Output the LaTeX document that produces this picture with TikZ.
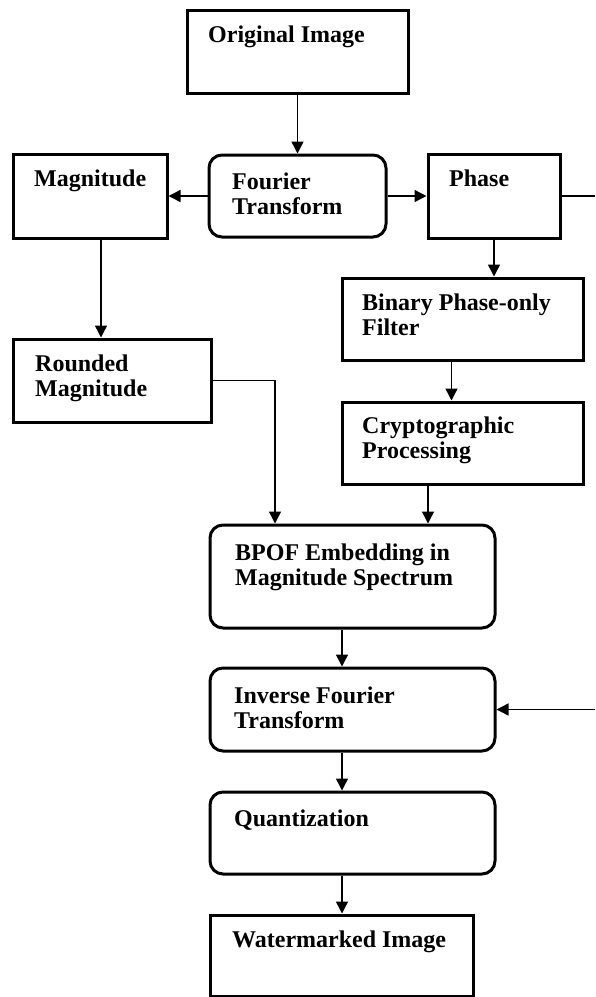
\documentclass[tikz,border=0pt]{standalone}
\usepackage{fontspec}
\setmainfont{Liberation Serif}
\usetikzlibrary{arrows.meta}
\begin{document}
\begin{tikzpicture}[x=1pt,y=-1pt,
  sqbox/.style={draw=black,line width=3pt,rectangle,inner sep=0pt},
  rbox/.style={draw=black,line width=3pt,rectangle,rounded corners=13pt,inner sep=0pt},
  lbl/.style={inner sep=0pt,anchor=north west,align=left,font=\fontsize{24}{25}\selectfont\bfseries},
  arr/.style={line width=1.4pt,-{Triangle[length=12pt,width=12pt]}},
  ln/.style={line width=1.4pt}]
\useasboundingbox (0,0) rectangle (595,997);
% boxes
\node[sqbox,minimum width=221pt,minimum height=83pt] (orig) at (297.5,51.5) {};
\node[rbox,minimum width=177pt,minimum height=82pt] (ft) at (297.5,196) {};
\node[sqbox,minimum width=154pt,minimum height=84pt] (mag) at (90,196) {};
\node[sqbox,minimum width=132pt,minimum height=84pt] (phase) at (494,196) {};
\node[sqbox,minimum width=198pt,minimum height=83pt] (rounded) at (112,380.5) {};
\node[sqbox,minimum width=241pt,minimum height=82pt] (binary) at (462.5,319) {};
\node[sqbox,minimum width=241pt,minimum height=82pt] (crypto) at (462.5,443) {};
\node[rbox,minimum width=285pt,minimum height=103pt] (bpof) at (352.5,576.5) {};
\node[rbox,minimum width=285pt,minimum height=83pt] (ift) at (352.5,709.5) {};
\node[rbox,minimum width=285pt,minimum height=82pt] (quant) at (352.5,833) {};
\node[sqbox,minimum width=263pt,minimum height=81pt] (wm) at (341.5,955.5) {};
% labels (top = baseline - 17.5)
\node[lbl] (torig) at (208,24.5) {\strut Original Image};
\node[lbl] (tft) at (232,171.5) {\strut Fourier\\\strut Transform};
\node[lbl] (tmag) at (34,168.5) {\strut Magnitude};
\node[lbl] (tphase) at (449,168.5) {\strut Phase};
\node[lbl] (tbin) at (362,292.5) {\strut Binary Phase-only\\\strut Filter};
\node[lbl] (trnd) at (35,353.5) {\strut Rounded\\\strut Magnitude};
\node[lbl] (tcry) at (362,415.5) {\strut Cryptographic\\\strut Processing};
\node[lbl] (tbpof) at (235,542.5) {\strut BPOF Embedding in\\\strut Magnitude Spectrum};
\node[lbl] (tift) at (234,685.5) {\strut Inverse Fourier\\\strut Transform};
\node[lbl] (tq) at (234,808.5) {\strut Quantization};
\node[lbl] (twm) at (232,929.5) {\strut Watermarked Image};
% helper coordinates
\coordinate (xmr) at (101,0);
\coordinate (xbc) at (451.5,0);
\coordinate (xrb) at (275,0);
\coordinate (xcb) at (428,0);
\coordinate (xmid) at (342,0);
\coordinate (pr) at (595,196);
\coordinate (ir) at (595,709.5);
% connectors
\draw[arr] (orig.south) -- (ft.north);
\draw[arr] (ft.west) -- (mag.east);
\draw[arr] (ft.east) -- (phase.west);
\draw[ln] (phase.east) -- (pr);
\draw[arr] (xmr |- mag.south) -- (xmr |- rounded.north);
\draw[arr] (phase.south) -- (phase.south |- binary.north);
\draw[arr] (xbc |- binary.south) -- (xbc |- crypto.north);
\draw[arr] (rounded.east) -| (xrb |- bpof.north);
\draw[arr] (xcb |- crypto.south) -- (xcb |- bpof.north);
\draw[arr] (xmid |- bpof.south) -- (xmid |- ift.north);
\draw[arr] (xmid |- ift.south) -- (xmid |- quant.north);
\draw[arr] (xmid |- quant.south) -- (xmid |- wm.north);
\draw[arr] (ir) -- (ift.east);
\end{tikzpicture}
\end{document}
